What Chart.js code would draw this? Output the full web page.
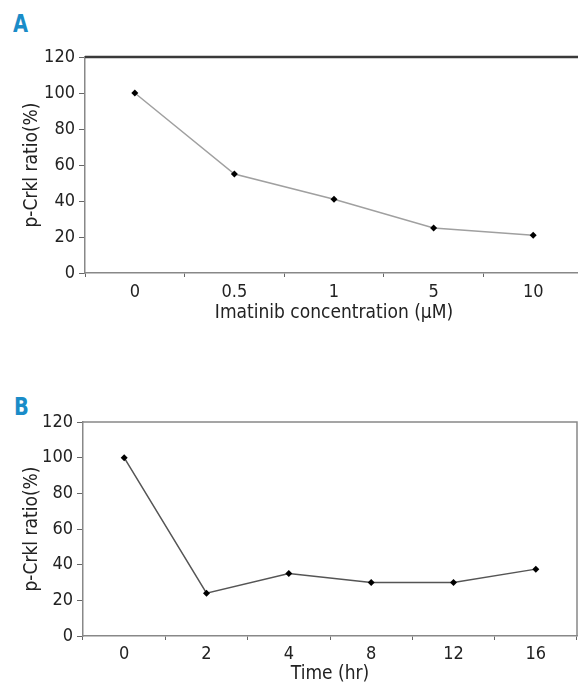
<!DOCTYPE html>
<html>
<head>
<meta charset="utf-8">
<script src="https://cdn.jsdelivr.net/npm/chart.js@4.4.1/dist/chart.umd.min.js"></script>
<style>
  html, body { margin: 0; padding: 0; background: #fff; width: 578px; height: 685px; overflow: hidden; }
  .painel { position: absolute; left: 0; }
  .letra { position: absolute; font: bold 24px 'DejaVu Sans Condensed', sans-serif; color: #1a8cc8; transform: scaleX(0.9); transform-origin: left top; }
</style>
</head>
<body>
<div class="letra" style="top:10px; left:13px">A</div>
<div class="painel" style="top:0; width:600px; height:330px"><canvas id="grafico-a"></canvas></div>
<div class="letra" style="top:393px; left:14px">B</div>
<div class="painel" style="top:370px; width:581px; height:315px"><canvas id="grafico-b"></canvas></div>
<script>
const doseLabels = ["0", "0.5", "1", "5", "10"];
const doseValues = [100, 55, 41, 25, 21];
const timeLabels = ["0", "2", "4", "8", "12", "16"];
const timeValues = [100, 24, 35, 30, 30, 37.5];
const yMin = 0, yMax = 120, yStep = 20;

const fonte = "'DejaVu Sans Condensed', 'Liberation Sans Narrow', sans-serif";

// moldura: linha de cima (e da direita no B)
const moldura = {
  id: "moldura",
  afterDraw(chart, args, opts) {
    const { ctx, chartArea: a } = chart;
    ctx.save();
    ctx.strokeStyle = opts.color;
    ctx.lineWidth = opts.width;
    ctx.beginPath();
    ctx.moveTo(a.left, a.top);
    ctx.lineTo(a.right, a.top);
    if (opts.right) ctx.lineTo(a.right, a.bottom);
    ctx.stroke();
    ctx.restore();
  }
};

function montarGrafico(id, labels, values, cfg) {
  return new Chart(document.getElementById(id), {
    type: "line",
    data: {
      labels,
      datasets: [{
        data: values,
        borderColor: cfg.lineColor,
        borderWidth: 1.5,
        pointStyle: "rectRot",
        pointRadius: 3.5,
        pointBackgroundColor: "#000",
        pointBorderColor: "#000",
        pointBorderWidth: 0,
        tension: 0
      }]
    },
    options: {
      responsive: true,
      maintainAspectRatio: false,
      animation: false,
      layout: { padding: cfg.padding },
      plugins: {
        legend: { display: false },
        tooltip: { enabled: false },
        moldura: cfg.moldura
      },
      scales: {
        x: {
          offset: true,
          grid: { offset: true, drawOnChartArea: false, tickLength: 4, color: "#666" },
          border: { color: "#888", width: 1.5 },
          ticks: { color: "#222", font: { family: fonte, size: 18 }, padding: cfg.xPad, maxRotation: 0 },
          title: { display: true, text: cfg.xTitle, color: "#222", font: { family: fonte, size: 19 }, padding: cfg.xTitlePad },
          afterFit: s => { s.height = cfg.xHeight; }
        },
        y: {
          min: yMin,
          max: yMax,
          ticks: { stepSize: yStep, color: "#222", font: { family: fonte, size: 18 }, padding: 4 },
          grid: { drawOnChartArea: false, tickLength: 6, color: "#666" },
          border: { color: "#888", width: 1.5 },
          title: { display: true, text: "p-Crkl ratio(%)", color: "#222", font: { family: fonte, size: 19 }, padding: { top: 21, bottom: 0 } },
          afterFit: s => { s.width = cfg.yWidth; }
        }
      }
    },
    plugins: [moldura]
  });
}

montarGrafico("grafico-a", doseLabels, doseValues, {
  lineColor: "#a0a0a0",
  padding: { top: 57, right: 17, left: 0, bottom: 0 },
  xTitle: "Imatinib concentration (\u03bcM)",
  xPad: 5,
  xTitlePad: { top: 0, bottom: 6 },
  xHeight: 57,
  yWidth: 85,
  moldura: { color: "#3a3a3a", width: 2.5, right: false }
});

montarGrafico("grafico-b", timeLabels, timeValues, {
  lineColor: "#555",
  padding: { top: 52, right: 1, left: 0, bottom: 0 },
  xTitle: "Time (hr)",
  xPad: 4,
  xTitlePad: { top: 0, bottom: 0 },
  xHeight: 49,
  yWidth: 83,
  moldura: { color: "#888", width: 1.5, right: true }
});
</script>
</body>
</html>
